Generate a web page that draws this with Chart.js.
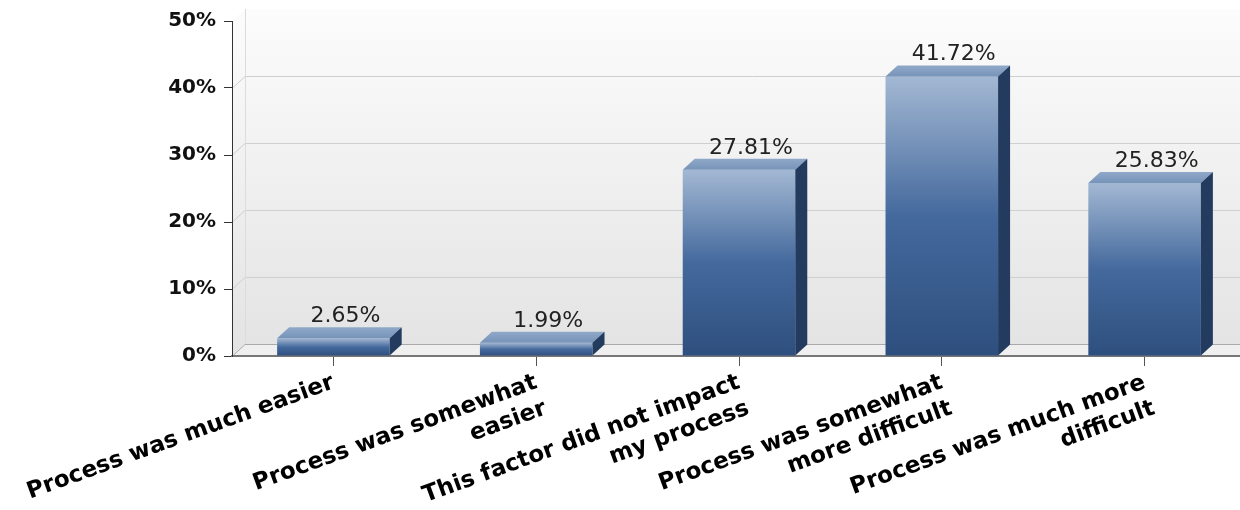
<!DOCTYPE html>
<html lang="en">
<head>
<meta charset="UTF-8">
<title>Process difficulty chart</title>
<script src="https://cdn.jsdelivr.net/npm/chart.js"></script>
<style>
  html, body { margin: 0; padding: 0; background: #fff; overflow: hidden; }
  #wrap { position: relative; width: 1260px; height: 510px; }
</style>
</head>
<body>
<div id="wrap"><canvas id="bars"></canvas></div>
<script>
const categories = [
  'Process was much easier',
  ['Process was somewhat', 'easier'],
  ['This factor did not impact', 'my process'],
  ['Process was somewhat', 'more difficult'],
  ['Process was much more', 'difficult']
];
const percents = [2.65, 1.99, 27.81, 41.72, 25.83];
const yTickValues = [0, 10, 20, 30, 40, 50];

// fake 3d depth
const BAR_DX = 12, BAR_DY = -11;
const WALL_DX = 13, WALL_DY = -12;

function frontFill(context) {
  const chart = context.chart;
  const y = chart.scales.y;
  if (!chart.chartArea || !y) return '#44699d';
  const top = y.getPixelForValue(percents[context.dataIndex]);
  const base = y.getPixelForValue(0);
  const g = chart.ctx.createLinearGradient(0, top, 0, base);
  g.addColorStop(0, '#a3b8d3');
  g.addColorStop(0.5, '#44699d');
  g.addColorStop(1, '#2e4f7e');
  return g;
}

function poly(ctx, pts, fill) {
  ctx.beginPath();
  ctx.moveTo(pts[0][0], pts[0][1]);
  for (let i = 1; i < pts.length; i++) ctx.lineTo(pts[i][0], pts[i][1]);
  ctx.closePath();
  ctx.fillStyle = fill;
  ctx.fill();
}

const walls = {
  id: 'walls',
  beforeDraw(chart) {
    const { ctx, chartArea: a } = chart;
    const y = chart.scales.y;
    const W = chart.width;
    ctx.save();
    const bg = ctx.createLinearGradient(0, a.top + WALL_DY, 0, a.bottom);
    bg.addColorStop(0, '#fcfcfc');
    bg.addColorStop(1, '#e3e3e3');
    ctx.fillStyle = bg;
    ctx.fillRect(a.left + WALL_DX, a.top + WALL_DY, W, a.bottom - a.top);
    // left wall
    poly(ctx, [[a.left, a.top], [a.left + WALL_DX, a.top + WALL_DY],
      [a.left + WALL_DX, a.bottom + WALL_DY], [a.left, a.bottom]], bg);
    // floor
    poly(ctx, [[a.left, a.bottom], [W, a.bottom], [W, a.bottom + WALL_DY],
      [a.left + WALL_DX, a.bottom + WALL_DY]], '#efefef');

    ctx.lineWidth = 1;
    yTickValues.forEach(v => {
      const py = Math.round(y.getPixelForValue(v)) + 0.5;
      if (v === 50) return;
      ctx.strokeStyle = v === 0 ? '#a9a9a9' : '#cfcfcf';
      ctx.beginPath();
      ctx.moveTo(a.left, py);
      ctx.lineTo(a.left + WALL_DX, py + WALL_DY);
      ctx.lineTo(W, py + WALL_DY);
      ctx.stroke();
    });
    ctx.strokeStyle = '#dcdcdc';
    ctx.beginPath();
    ctx.moveTo(a.left + WALL_DX + 0.5, a.top + WALL_DY);
    ctx.lineTo(a.left + WALL_DX + 0.5, a.bottom + WALL_DY);
    ctx.stroke();
    ctx.restore();
  }
};

const faces = {
  id: 'faces',
  afterDatasetsDraw(chart) {
    const ctx = chart.ctx;
    const meta = chart.getDatasetMeta(0);
    ctx.save();
    meta.data.forEach((bar, i) => {
      const { x, y, base, width } = bar.getProps(['x', 'y', 'base', 'width'], true);
      const l = x - width / 2, r = x + width / 2;
      const tg = ctx.createLinearGradient(0, y + BAR_DY, 0, y);
      tg.addColorStop(0, '#90a9c9');
      tg.addColorStop(1, '#7693b9');
      poly(ctx, [[l, y], [r, y], [r + BAR_DX, y + BAR_DY], [l + BAR_DX, y + BAR_DY]], tg);
      poly(ctx, [[r, y], [r + BAR_DX, y + BAR_DY], [r + BAR_DX, base + BAR_DY], [r, base]], '#233b5e');

      ctx.font = '22px "DejaVu Sans", sans-serif';
      ctx.fillStyle = '#222';
      ctx.textAlign = 'center';
      ctx.textBaseline = 'alphabetic';
      ctx.fillText(percents[i].toFixed(2) + '%', x + BAR_DX, y + BAR_DY - 5);
    });
    ctx.restore();
  }
};

new Chart(document.getElementById('bars'), {
  type: 'bar',
  data: {
    labels: categories,
    datasets: [{
      data: percents,
      backgroundColor: frontFill,
      borderWidth: 0,
      barPercentage: 0.555,
      categoryPercentage: 1
    }]
  },
  options: {
    responsive: true,
    maintainAspectRatio: false,
    animation: false,
    layout: { padding: { left: 0, right: 14, top: 21, bottom: 0 } },
    plugins: {
      legend: { display: false },
      tooltip: { enabled: false }
    },
    scales: {
      x: {
        grid: { drawOnChartArea: false, offset: false, tickLength: 10, color: '#555' },
        border: { color: '#777', width: 2 },
        ticks: {
          autoSkip: false,
          minRotation: 20,
          maxRotation: 20,
          padding: 3,
          color: '#000',
          font: { family: '"DejaVu Sans", sans-serif', weight: 'bold', size: 23, lineHeight: 1.2 }
        },
        afterFit: s => {
          s.height = 154;
          // labels may hang off the left edge, like the original
          s.paddingLeft = 0;
          s.paddingRight = 0;
        }
      },
      y: {
        min: 0,
        max: 50,
        ticks: {
          stepSize: 10,
          padding: 8,
          color: '#111',
          font: { family: '"DejaVu Sans", sans-serif', weight: 'bold', size: 20 },
          callback: v => v + '%'
        },
        grid: { drawOnChartArea: false, tickLength: 8, color: '#333' },
        border: { color: '#333', width: 1 },
        afterFit: s => { s.width = 232; }
      }
    }
  },
  plugins: [walls, faces]
});
</script>
</body>
</html>
